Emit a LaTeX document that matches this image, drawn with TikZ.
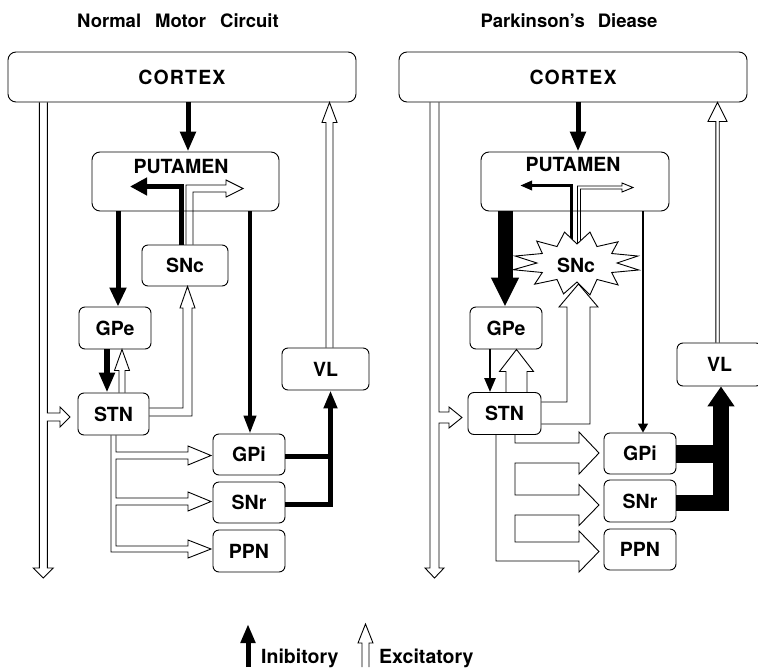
\documentclass[tikz,border=0pt]{standalone}
\usepackage{fontspec}
\setmainfont{TeX Gyre Heros}
\usetikzlibrary{arrows.meta,calc}
\pgfdeclarelayer{bg}
\pgfsetlayers{bg,main}
\newcommand\OpArrUp[6]{%
  \draw[oarr] (#1-#4,0 |- #2) -- ($(#1-#4,0 |- #3)+(0,#6)$) -- ($(#1-#5,0 |- #3)+(0,#6)$) -- (#1,0 |- #3) -- ($(#1+#5,0 |- #3)+(0,#6)$) -- ($(#1+#4,0 |- #3)+(0,#6)$) -- (#1+#4,0 |- #2);}
\newcommand\cortextxt{{\addfontfeatures{LetterSpace=6}CORTEX}}
\tikzset{
  box/.style={draw, line width=0.9pt, rounded corners=6pt, inner sep=0pt},
  oarr/.style={draw, fill=white, line width=0.9pt, line join=miter},
  blk/.style={line width=5pt, line join=miter, -{Triangle[width=15pt,length=20pt]}},
  ttl/.style={font=\bfseries\fontsize{18.5}{22}\selectfont, anchor=base, inner sep=0pt}
}
\begin{document}
\begin{tikzpicture}[x=1pt,y=-1pt,font=\bfseries\fontsize{19.5}{22}\selectfont]
\useasboundingbox (0,0) rectangle (758,667);

% titles
\node[ttl] (t1) at (178,27) {Normal\hspace{14pt}Motor\hspace{14pt}Circuit};
\node[ttl] (t2) at (569,27) {Parkinson’s\hspace{13pt}Diease};

% ---------- left panel nodes ----------
\node[box, rounded corners=8pt, minimum width=348pt, minimum height=50pt] (cortexL) at (182,77) {\cortextxt};
\node[box, rounded corners=8pt, minimum width=187pt, minimum height=59pt] (putL) at (185.5,181.5) {};
\node[inner sep=0pt] (putLt) at (181,166.7) {PUTAMEN};
\node[box, minimum width=86pt, minimum height=41pt] (sncL) at (185,265.5) {SNc};
\node[box, minimum width=72pt, minimum height=42pt] (gpeL) at (115,328) {GPe};
\node[box, minimum width=71pt, minimum height=42pt] (stnL) at (113.5,414) {STN};
\node[box, minimum width=72pt, minimum height=41pt] (gpiL) at (249,454.5) {GPi};
\node[box, minimum width=72pt, minimum height=41pt] (snrL) at (249,502.5) {SNr};
\node[box, minimum width=72pt, minimum height=42pt] (ppnL) at (249,551) {PPN};
\node[box, minimum width=87pt, minimum height=42pt] (vlL) at (325.5,369) {VL};

% ---------- right panel nodes ----------
\node[box, rounded corners=8pt, minimum width=348pt, minimum height=50pt] (cortexR) at (573,77) {\cortextxt};
\node[box, rounded corners=8pt, minimum width=188pt, minimum height=59pt] (putR) at (575,181.5) {};
\node[inner sep=0pt] (putRt) at (573,165) {PUTAMEN};
\coordinate (sncRc) at (577,263);
\node[box, minimum width=72pt, minimum height=42pt] (gpeR) at (506,328) {GPe};
\node[box, minimum width=73pt, minimum height=42pt] (stnR) at (504.5,413.5) {STN};
\node[box, minimum width=72pt, minimum height=41pt] (gpiR) at (640,453.5) {GPi};
\node[box, minimum width=72pt, minimum height=42pt] (snrR) at (640,501) {SNr};
\node[box, minimum width=72pt, minimum height=41pt] (ppnR) at (640,549.5) {PPN};
\node[box, minimum width=85pt, minimum height=43pt] (vlR) at (719.5,364.5) {VL};

% ---------- connectors (behind boxes) ----------
\begin{pgfonlayer}{bg}
% left: inhibitory
\draw[blk] (188,0 |- cortexL.south) -- (188,0 |- putL.north);
\draw[blk, -{Triangle[width=16pt,length=19pt]}] (118,0 |- putL.south) -- (118,0 |- gpeL.north);
\draw[blk, line width=4pt, -{Triangle[width=12pt,length=18pt]}] (250,0 |- putL.south) -- (250,0 |- gpiL.north);
\draw[blk, line width=5.5pt] (107,0 |- gpeL.south) -- (107,0 |- stnL.north);
\coordinate (inhLend) at (130,186.5);
\draw[blk, -{Triangle[width=17pt,length=17pt]}] (181.5,0 |- sncL.north) |- (inhLend);
\coordinate (gpiLout) at ($(gpiL.east)+(0,2)$);
\draw[line width=5pt] (gpiLout) -- (330.5,0 |- gpiLout);
\draw[blk, -{Triangle[width=13pt,length=18pt]}] ($(snrL.east)+(0,1.5)$) -| (330.5,0 |- vlL.south);
% left: excitatory
\draw[oarr] (39.3,0 |- cortexL.south) -- (39.3,568) -- (33.3,568) -- (43.3,578) -- (53.3,568) -- (47.3,568) -- (47.3,421) -- (60,421) -- (60,427) -- (70,417) -- (60,407) -- (60,413) -- (47.3,413) -- (47.3,0 |- cortexL.south);
\OpArrUp{329.5}{vlL.north}{cortexL.south}{3.5}{7.5}{20}
\OpArrUp{122}{stnL.north}{gpeL.south}{3}{7.5}{21}
\draw[oarr] ($(stnL.east)+(0,-6)$) -- (183,408) -- (183,308) -- (180,308) -- (187.5,0 |- sncL.south) -- (195,308) -- (192,308) -- (192,416) -- ($(stnL.east)+(0,2)$);
\coordinate (excLend) at (243,188.5);
\draw[oarr] (186,0 |- sncL.north) -- (186,185) -- (226,185) -- (226,180) -- (excLend) -- (226,197) -- (226,192) -- (193,192) -- (193,0 |- sncL.north);
\draw[oarr] (111,0 |- stnL.south) -- (111,552) -- (188,552) -- (188,558) -- (211,549) -- (188,540) -- (188,546) -- (116,546) -- (116,505) -- (188,505) -- (188,511) -- (211,501.5) -- (188,492) -- (188,498) -- (116,498) -- (116,459) -- (188,459) -- (188,465) -- (211,455.5) -- (188,446) -- (188,452) -- (116,452) -- (116,0 |- stnL.south);

% right: inhibitory
\draw[blk] (578,0 |- cortexR.south) -- (578,0 |- putR.north);
\draw[blk, line width=15pt, -{Triangle[width=26pt,length=29pt]}] (505,0 |- putR.south) -- (505,0 |- gpeR.north);
\draw[blk, line width=1.3pt, -{Triangle[width=10pt,length=9pt]}] (643,0 |- putR.south) -- (643,0 |- gpiR.north);
\draw[blk, line width=2.5pt, -{Triangle[width=11pt,length=14pt]}] (490,0 |- gpeR.south) -- (490,0 |- stnR.north);
\coordinate (inhRend) at (520,185.5);
\draw[blk, line width=3pt, -{Triangle[width=9pt,length=12pt]}] (571.5,0 |- sncRc) |- (inhRend);
\draw[line width=18pt] (gpiR.east) -- (721,0 |- gpiR.east);
\draw[blk, line width=16pt, -{Triangle[width=26pt,length=20pt]}] ($(snrR.east)+(0,2)$) -| (721,0 |- vlR.south);
% right: excitatory
\draw[oarr] (430,0 |- cortexR.south) -- (430,568) -- (425,568) -- (434.5,578) -- (444,568) -- (439,568) -- (439,423) -- (449,423) -- (449,428) -- (462,417.5) -- (449,407) -- (449,412) -- (439,412) -- (439,0 |- cortexR.south);
\OpArrUp{717.5}{vlR.north}{cortexR.south}{1.7}{9.5}{19}
\OpArrUp{516.5}{stnR.north}{gpeR.south}{10.5}{17}{22}
\draw[oarr] (stnR.east |- 0,402) -- (567,402) -- (567,307) -- (559,307) -- (578.5,284) -- (598,307) -- (590,307) -- (590,424) -- (stnR.east |- 0,424);
\draw[oarr] (577.5,0 |- sncRc) -- (577.5,186) -- (622,186) -- (622,183) -- (633,187.5) -- (622,192) -- (622,189) -- (580.5,189) -- (580.5,0 |- sncRc);
\draw[oarr] (496,0 |- stnR.south) -- (496,561) -- (579,561) -- (579,572) -- (599,551.5) -- (579,531) -- (579,542) -- (515,542) -- (515,515) -- (579,515) -- (579,525.5) -- (599,505) -- (579,484.5) -- (579,495) -- (515,495) -- (515,463) -- (579,463) -- (579,474) -- (599,453) -- (579,432) -- (579,443) -- (515,443) -- (515,0 |- stnR.south);
\end{pgfonlayer}

% SNc starburst (right), slightly irregular spikes
\filldraw[fill=white, draw=black, line width=0.9pt, line join=miter]
  ($(sncRc)+(0:40 and 19)$)
  \foreach \a/\rx/\ry in {15/64/27, 45/58/31, 75/50/33, 105/52/32, 135/60/30, 165/66/26, 195/64/27, 225/57/31, 255/48/32, 285/50/32, 315/58/30, 345/63/27}
    { -- ($(sncRc)+(\a:{\rx} and {\ry})$) -- ($(sncRc)+(\a+15:40 and 19)$) } -- cycle;
\node[inner sep=0pt] (sncR) at (576,265) {SNc};

% legend
\coordinate (inhB) at (248,667);
\coordinate (inhT) at (248,624);
\draw[blk, -{Triangle[width=14pt,length=19pt]}] (inhB) -- (inhT);
\node[anchor=base west, inner sep=0pt] (inhTxt) at (261,663) {Inibitory};
\coordinate (excB) at (365.5,667);
\coordinate (excT) at (365.5,624);
\OpArrUp{365.5}{excB}{excT}{3.5}{7.5}{19}
\node[anchor=base west, inner sep=0pt] (excTxt) at (379,663) {Excitatory};
\end{tikzpicture}
\end{document}
